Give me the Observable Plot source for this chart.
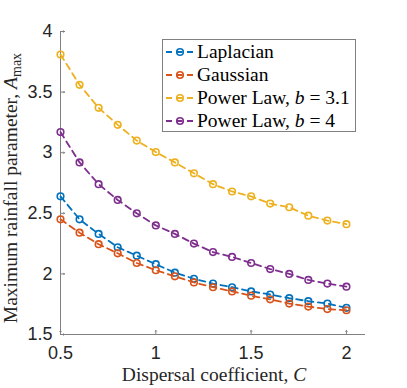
<!DOCTYPE html>
<html><head><meta charset="utf-8">
<script src="https://cdn.jsdelivr.net/npm/d3@7"></script>
<script src="https://cdn.jsdelivr.net/npm/@observablehq/plot@0.6"></script>
<style>
body{margin:0;background:#fff;}
#wrap{position:relative;width:407px;height:388px;}
</style></head>
<body><div id="wrap"></div>
<script>
const dispersal = [0.5,0.6,0.7,0.8,0.9,1.0,1.1,1.2,1.3,1.4,1.5,1.6,1.7,1.8,1.9,2.0];
const laplacian = [2.64,2.45,2.33,2.22,2.15,2.08,2.01,1.96,1.92,1.89,1.855,1.83,1.80,1.775,1.755,1.72];
const gaussian  = [2.45,2.34,2.245,2.17,2.09,2.03,1.98,1.93,1.89,1.855,1.82,1.79,1.755,1.73,1.71,1.70];
const powerLaw31 = [3.81,3.56,3.37,3.23,3.10,3.005,2.92,2.83,2.74,2.68,2.64,2.58,2.55,2.48,2.44,2.41];
const powerLaw4  = [3.17,2.92,2.74,2.61,2.50,2.40,2.33,2.25,2.18,2.14,2.09,2.04,2.00,1.95,1.92,1.895];
const seriesNames = ["Laplacian","Gaussian","Power Law, b = 3.1","Power Law, b = 4"];
const seriesColors = ["#0072BD","#D95319","#EDB120","#7E2F8E"];
const xTicks = [0.5,1,1.5,2];
const yTicks = [1.5,2,2.5,3,3.5,4];

const allSeries = [laplacian, gaussian, powerLaw31, powerLaw4];
const data = allSeries.flatMap((vals,i)=>vals.map((v,j)=>({C:dispersal[j], A:v, s:seriesNames[i]})));
const color = {domain: seriesNames, range: seriesColors};
const axisGray = "#808080";
const sans = "Liberation Sans, Arial, sans-serif";

const marks = [
  Plot.ruleX([0.5], {stroke: axisGray, strokeWidth: 1}),
  Plot.ruleY([1.5], {stroke: axisGray, strokeWidth: 1}),
  Plot.vector(xTicks, {x: d=>d, y: ()=>1.5, length: 4, rotate: 0, anchor: "start", stroke: axisGray, strokeWidth: 1}),
  Plot.vector(yTicks, {x: ()=>0.5, y: d=>d, length: 4, rotate: 90, anchor: "start", stroke: axisGray, strokeWidth: 1}),
  Plot.text(xTicks, {x: d=>d, y: ()=>1.5, text: d=>String(d), dy: 19, fontSize: 18, fill: "#262626", fontFamily: sans}),
  Plot.text(yTicks, {x: ()=>0.5, y: d=>d, text: d=>String(d), dx: -8, textAnchor: "end", fontSize: 18, fill: "#262626", fontFamily: sans})
];
seriesNames.forEach((name,i)=>{
  const d = data.filter(r=>r.s===name);
  marks.push(Plot.line(d, {x:"C", y:"A", stroke: seriesColors[i], strokeWidth: 1.8, strokeDasharray: "6.5,4.5"}));
  marks.push(Plot.dot(d, {x:"C", y:"A", stroke: seriesColors[i], r: 3.3, strokeWidth: 1.6, fill: "none"}));
});

const chart = Plot.plot({
  width: 407, height: 388,
  marginLeft: 60, marginRight: 42, marginTop: 31, marginBottom: 54,
  x: {domain: [0.5, 2.1], axis: null},
  y: {domain: [1.5, 4], axis: null},
  color,
  marks
});
document.getElementById("wrap").appendChild(chart);

const svg = d3.select(chart);
const serif = "'Liberation Serif', 'DejaVu Serif', serif";
// x label
const xl = svg.append("text").attr("x", 214).attr("y", 381).attr("text-anchor","middle")
  .attr("font-family", serif).attr("font-size", 19.5).attr("fill","#262626");
xl.append("tspan").text("Dispersal coefficient, ");
xl.append("tspan").attr("font-style","italic").text("C");
// y label
const yl = svg.append("text").attr("transform","translate(17,188) rotate(-90)").attr("text-anchor","middle")
  .attr("font-family", serif).attr("font-size", 19.5).attr("fill","#262626");
yl.append("tspan").text("Maximum rainfall parameter, ");
yl.append("tspan").attr("font-style","italic").text("A");
yl.append("tspan").attr("font-size", 14).attr("dy", 4).text("max");

// legend
const lg = svg.append("g");
lg.append("rect").attr("x",162.5).attr("y",39.5).attr("width",193).attr("height",92)
  .attr("fill","#fff").attr("stroke","#808080").attr("stroke-width",1);
seriesNames.forEach((name,i)=>{
  const y = 52 + i*23;
  lg.append("line").attr("x1",166).attr("x2",196).attr("y1",y).attr("y2",y)
    .attr("stroke",seriesColors[i]).attr("stroke-width",1.8).attr("stroke-dasharray","6,4.5").attr("stroke-dashoffset",0);
  lg.append("circle").attr("cx",180).attr("cy",y).attr("r",3.3).attr("fill","none")
    .attr("stroke",seriesColors[i]).attr("stroke-width",1.6);
  const t = lg.append("text").attr("x",197).attr("y",y+6).attr("text-anchor","start").attr("font-family",serif)
    .attr("font-size",19.5).attr("fill","#000");
  if (i < 2) t.text(name);
  else {
    t.append("tspan").text("Power Law, ");
    t.append("tspan").attr("font-style","italic").text("b");
    t.append("tspan").text(i===2 ? " = 3.1" : " = 4");
  }
});
</script></body></html>
